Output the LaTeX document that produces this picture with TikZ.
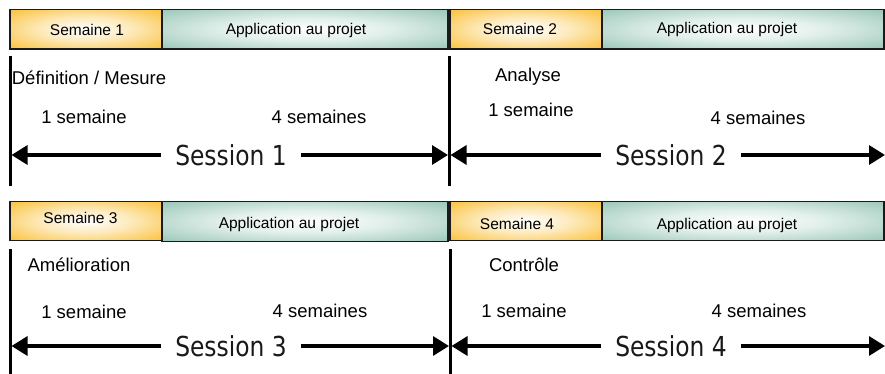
\documentclass[tikz,border=0pt]{standalone}
\usepackage{fontspec}
\setmainfont{Liberation Sans}
\newfontfamily\sessfont[FakeStretch=0.85]{DejaVu Sans}
\usetikzlibrary{arrows.meta}
\definecolor{orD}{HTML}{FAB921}
\definecolor{orL}{HTML}{FDEBC0}
\definecolor{tlD}{HTML}{8CBEAE}
\definecolor{tlL}{HTML}{E2F0EB}
\definecolor{edge}{HTML}{1A1A1A}
\pgfdeclareradialshading{orglow}{\pgfpoint{0bp}{0bp}}{color(0bp)=(white); color(14bp)=(orL); color(40bp)=(orD); color(50bp)=(orD)}
\pgfdeclareradialshading{tlglow}{\pgfpoint{0bp}{0bp}}{color(0bp)=(white); color(14bp)=(tlL); color(40bp)=(tlD); color(50bp)=(tlD)}
\tikzset{
  sembox/.style={draw=edge, line width=1.2pt, shading=orglow, inner sep=0pt, minimum width=152pt, minimum height=39.5pt},
  appbox/.style={draw=edge, line width=1.2pt, shading=tlglow, inner sep=0pt, minimum height=39.5pt},
  bartext/.style={font=\fontsize{15.5}{18}\selectfont, text=black, inner sep=0pt},
  lbl/.style={font=\fontsize{18.5}{22}\selectfont, text=black, inner sep=0pt},
  sess/.style={font=\sessfont\fontsize{27.5}{30}\selectfont, text=black!90, inner xsep=14pt, inner ysep=0pt},
  sessarrow/.style={line width=3.2pt, -{Triangle[length=16pt,width=19pt]}},
  vline/.style={line width=3pt}
}
\begin{document}
\begin{tikzpicture}[x=1pt,y=-1pt]
\useasboundingbox (0,0) rectangle (885,374);
% ---------- row 1 bars
\node[sembox] (b1) at (86,29.25) {};
\node[appbox, minimum width=286pt] (a1) at (305,29.25) {};
\node[sembox] (b2) at (526,29.25) {};
\node[appbox, minimum width=282pt] (a2) at (743,29.25) {};
\node[bartext] (tb1) at (87,30) {Semaine 1};
\node[bartext] (ta1) at (296,30) {Application au projet};
\node[bartext] (tb2) at (520,29) {Semaine 2};
\node[bartext] (ta2) at (727,29) {Application au projet};
% ---------- row 2 bars
\node[sembox] (b3) at (86,221) {};
\node[appbox, minimum width=286pt] (a3) at (305,221.5) {};
\node[sembox] (b4) at (526,221) {};
\node[appbox, minimum width=282pt] (a4) at (743,221) {};
\node[bartext] (tb3) at (80.5,218) {Semaine 3};
\node[bartext] (ta3) at (289,224) {Application au projet};
\node[bartext] (tb4) at (517,224) {Semaine 4};
\node[bartext] (ta4) at (727,225) {Application au projet};
% ---------- vertical lines
\coordinate (v1t) at (10,56); \coordinate (v1b) at (10,186);
\coordinate (v2t) at (449,56); \coordinate (v2b) at (449,186);
\coordinate (v3t) at (10,249); \coordinate (v3b) at (10,374);
\coordinate (v4t) at (450,249); \coordinate (v4b) at (450,374);
\draw[vline] (v1t) -- (v1b);
\draw[vline] (v2t) -- (v2b);
\draw[vline] (v3t) -- (v3b);
\draw[vline] (v4t) -- (v4b);
% ---------- labels row 1
\node[lbl] (d1) at (89,78) {Définition / Mesure};
\node[lbl] (w11) at (84,117) {1 semaine};
\node[lbl] (w14) at (319,117) {4 semaines};
\node[lbl] (d2) at (528,77) {Analyse};
\node[lbl] (w21) at (531,110) {1 semaine};
\node[lbl] (w24) at (758,118) {4 semaines};
% ---------- labels row 2
\node[lbl] (d3) at (79,265) {Amélioration};
\node[lbl] (w31) at (84,312) {1 semaine};
\node[lbl] (w34) at (320,311) {4 semaines};
\node[lbl] (d4) at (524,265) {Contrôle};
\node[lbl] (w41) at (524,311) {1 semaine};
\node[lbl] (w44) at (759,311) {4 semaines};
% ---------- sessions
\node[sess] (s1) at (231,155) {Session 1};
\coordinate (s1L) at (11.5,155); \coordinate (s1R) at (448,155);
\draw[sessarrow] (s1) -- (s1L);
\draw[sessarrow] (s1) -- (s1R);
\node[sess] (s2) at (671,155) {Session 2};
\coordinate (s2L) at (450.5,155); \coordinate (s2R) at (885,155);
\draw[sessarrow] (s2) -- (s2L);
\draw[sessarrow] (s2) -- (s2R);
\node[sess] (s3) at (231,346) {Session 3};
\coordinate (s3L) at (11.5,346); \coordinate (s3R) at (449,346);
\draw[sessarrow] (s3) -- (s3L);
\draw[sessarrow] (s3) -- (s3R);
\node[sess] (s4) at (671,346) {Session 4};
\coordinate (s4L) at (451.5,346); \coordinate (s4R) at (885,346);
\draw[sessarrow] (s4) -- (s4L);
\draw[sessarrow] (s4) -- (s4R);
\end{tikzpicture}
\end{document}
